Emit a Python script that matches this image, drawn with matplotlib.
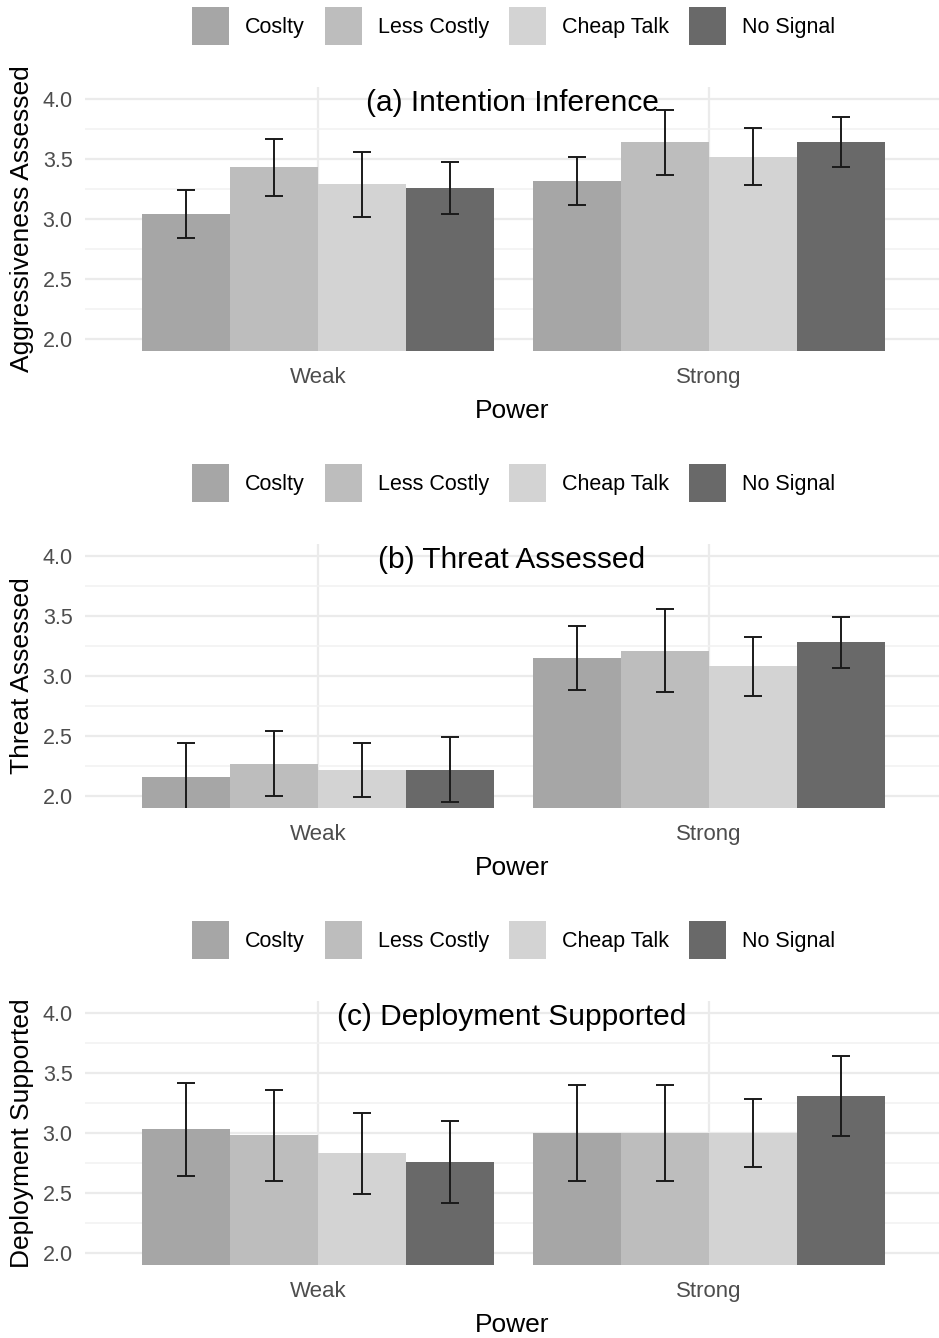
import numpy as np
import matplotlib.pyplot as plt
from matplotlib.transforms import blended_transform_factory

plt.rcParams['font.family'] = ['Liberation Sans', 'DejaVu Sans']

power = ['Weak', 'Strong']
signals = ['Coslty', 'Less Costly', 'Cheap Talk', 'No Signal']
colors = ['#a6a6a6', '#bdbdbd', '#d3d3d3', '#696969']

# rows = Weak, Strong ; columns = signals
intent_mean = [[3.04, 3.43, 3.29, 3.26], [3.32, 3.64, 3.52, 3.64]]
intent_err = [[0.20, 0.24, 0.27, 0.215], [0.20, 0.27, 0.24, 0.21]]
threat_mean = [[2.16, 2.27, 2.22, 2.22], [3.15, 3.21, 3.08, 3.28]]
threat_err = [[0.28, 0.27, 0.225, 0.27], [0.265, 0.345, 0.243, 0.21]]
deploy_mean = [[3.03, 2.98, 2.83, 2.76], [3.00, 3.00, 3.00, 3.31]]
deploy_err = [[0.39, 0.38, 0.34, 0.34], [0.40, 0.40, 0.287, 0.335]]

panels = [
    ('(a) Intention Inference', 'Aggressiveness Assessed', intent_mean, intent_err),
    ('(b) Threat Assessed', 'Threat Assessed', threat_mean, threat_err),
    ('(c) Deployment Supported', 'Deployment Supported', deploy_mean, deploy_err),
]

W, H = 939, 1338
fig = plt.figure(figsize=(W / 100, H / 100), dpi=100)
tops = [87, 544, 1001]
ph = 264
x0 = 85

bw = 0.225
offs = np.array([-1.5, -0.5, 0.5, 1.5]) * bw
xpos = np.arange(1, len(power) + 1)

for (title, ylab, mean, err), top in zip(panels, tops):
    ax = fig.add_axes([x0 / W, 1 - (top + ph) / H, (W - x0) / W, ph / H])
    mean = np.array(mean)
    err = np.array(err)
    for j, s in enumerate(signals):
        ax.bar(xpos + offs[j], mean[:, j], width=bw, color=colors[j], label=s, zorder=2)
        ax.errorbar(xpos + offs[j], mean[:, j], yerr=err[:, j], fmt='none',
                    ecolor='#1a1a1a', elinewidth=1.4, capsize=6.5, capthick=1.4, zorder=3)
    ax.set_xlim(1 - (318 - x0) / 391, 2 + (W - 709) / 391)
    ax.set_ylim(1.9, 4.1)
    ax.set_yticks([2.0, 2.5, 3.0, 3.5, 4.0])
    ax.set_yticks([2.25, 2.75, 3.25, 3.75], minor=True)
    ax.set_xticks(xpos)
    ax.set_xticklabels(power)
    ax.grid(which='major', color='#ebebeb', linewidth=1.6, zorder=0)
    ax.grid(which='minor', axis='y', color='#f2f2f2', linewidth=1.2, zorder=0)
    ax.set_axisbelow(True)
    for sp in ax.spines.values():
        sp.set_visible(False)
    ax.tick_params(axis='both', which='both', length=0)
    ax.tick_params(axis='y', labelsize=15.5, labelcolor='#4d4d4d', pad=9)
    ax.tick_params(axis='x', labelsize=16, labelcolor='#4d4d4d', pad=11.5)
    ax.set_xlabel('Power', fontsize=19, labelpad=8)
    ax.set_ylabel(ylab, fontsize=19, va='center')
    ax.yaxis.set_label_coords(-0.074, 0.5)
    tr = blended_transform_factory(ax.transAxes, ax.transData)
    ax.text(0.5, 3.97, title, transform=tr, ha='center', va='center', fontsize=21.5, zorder=1)
    ax.legend(loc='center', bbox_to_anchor=(0.502, 1 + 61 / ph), ncol=4, frameon=False,
              fontsize=15.5, handlelength=1.72, handleheight=2.34, handletextpad=0.74,
              columnspacing=0.93, borderaxespad=0)

fig.savefig('out.png', dpi=100, facecolor='white')
